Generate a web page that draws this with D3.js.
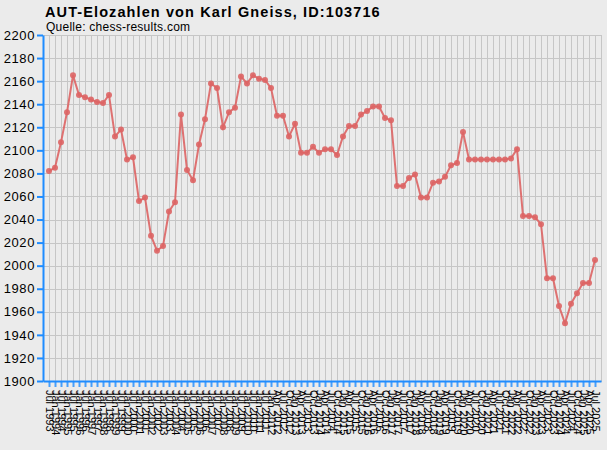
<!DOCTYPE html>
<html><head><meta charset="utf-8">
<script src="https://cdn.jsdelivr.net/npm/d3@7/dist/d3.min.js"></script>
<style>
html,body{margin:0;padding:0;background:#ebebeb;}
svg{display:block;font-family:"Liberation Sans",Arial,sans-serif;}
</style></head><body>
<svg id="c" width="607" height="450"></svg>
<script>
const titleText = "AUT-Elozahlen von Karl Gneiss, ID:103716";
const sourceText = "Quelle: chess-results.com";
const dates = [
"Jul 1993","Jan 1994","Jul 1994","Jan 1995","Jul 1995","Jan 1996","Jul 1996","Jan 1997","Jul 1997","Jan 1998",
"Jul 1998","Jan 1999","Jul 1999","Jan 2000","Jul 2000","Jan 2001","Jul 2001","Jan 2002","Jul 2002","Jan 2003",
"Jul 2003","Jan 2004","Jul 2004","Jan 2005","Jul 2005","Jan 2006","Jul 2006","Jan 2007","Jul 2007","Jan 2008",
"Jul 2008","Jan 2009","Jul 2009","Jan 2010","Jul 2010","Jan 2011","Jul 2011","Jan 2012",
"Apr 2012","Jul 2012","Oct 2012","Jan 2013","Apr 2013","Jul 2013","Oct 2013","Jan 2014","Apr 2014","Jul 2014",
"Oct 2014","Jan 2015","Apr 2015","Jul 2015","Oct 2015","Jan 2016","Apr 2016","Jul 2016","Oct 2016","Jan 2017",
"Apr 2017","Jul 2017","Oct 2017","Jan 2018","Apr 2018","Jul 2018","Oct 2018","Jan 2019","Apr 2019","Jul 2019",
"Oct 2019","Jan 2020","Apr 2020","Jul 2020","Oct 2020","Jan 2021","Apr 2021","Jul 2021","Oct 2021","Jan 2022",
"Apr 2022","Jul 2022","Oct 2022","Jan 2023","Apr 2023","Jul 2023","Oct 2023","Jan 2024","Apr 2024","Jul 2024",
"Oct 2024","Jan 2025","Apr 2025","Jul 2025"
];
const elo = [
2082,2085,2107,2133,2165,2148,2146,2144,2142,2141,
2148,2112,2118,2092,2094,2056,2059,2026,2013,2017,
2047,2055,2131,2083,2074,2105,2127,2158,2154,2120,
2133,2137,2164,2158,2165,2162,2161,2154,
2130,2130,2112,2123,2098,2098,2103,2098,2101,2101,
2096,2112,2121,2121,2131,2134,2138,2138,2128,2126,
2069,2069,2076,2079,2059,2059,2072,2073,2077,2087,
2089,2116,2092,2092,2092,2092,2092,2092,2092,2093,
2101,2043,2043,2042,2036,1989,1989,1965,1950,1967,
1976,1985,1985,2005
];
const yTicks = d3.range(1900, 2201, 20);

const svg = d3.select("#c");
const L = 43, R = 601, T = 35, B = 381;
const x = d3.scalePoint().domain(dates).range([L, R]).padding(1);
const y = d3.scaleLinear().domain([1900, 2200]).range([B, T]);

const gridColor = "#c6c6c6";
const axisColor = "#1e8cff";
const lineColor = "#dd6464";

// grid
const g = svg.append("g");
g.selectAll("line.h").data(yTicks).join("line")
  .attr("x1", L).attr("x2", R + 1)
  .attr("y1", d => Math.round(y(d)) + 0.5).attr("y2", d => Math.round(y(d)) + 0.5)
  .attr("stroke", gridColor).attr("stroke-width", 1);
g.selectAll("line.v").data(dates).join("line")
  .attr("x1", d => Math.round(x(d)) + 0.5).attr("x2", d => Math.round(x(d)) + 0.5)
  .attr("y1", T).attr("y2", B)
  .attr("stroke", gridColor).attr("stroke-width", 1);
g.append("line").attr("x1", R + 0.5).attr("x2", R + 0.5).attr("y1", T).attr("y2", B)
  .attr("stroke", gridColor);

// y axis
const ya = svg.append("g").attr("transform", `translate(${L},0)`)
  .call(d3.axisLeft(y).tickValues(yTicks).tickSize(6).tickSizeOuter(0).tickFormat(d3.format("d")));
ya.select(".domain").attr("stroke", axisColor).attr("stroke-width", 2);
ya.selectAll(".tick line").attr("stroke", axisColor).attr("stroke-width", 2);
ya.selectAll(".tick text").attr("font-size", 13).attr("fill", "#000")
  .attr("font-family", "Liberation Sans, Arial, sans-serif").attr("x", -8)
  .attr("letter-spacing", "0.6px");

// x axis
const xa = svg.append("g").attr("transform", `translate(0,${B})`)
  .call(d3.axisBottom(x).tickSize(6).tickSizeOuter(0));
xa.select(".domain").attr("stroke", axisColor).attr("stroke-width", 2);
xa.selectAll(".tick line").attr("stroke", axisColor).attr("stroke-width", 2).attr("stroke-opacity", 0.8);
xa.selectAll(".tick text")
  .attr("font-size", 11).attr("fill", "#000")
  .attr("font-family", "Liberation Sans, Arial, sans-serif")
  .attr("transform", "rotate(90)")
  .attr("text-anchor", "start")
  .attr("x", 9).attr("y", 0).attr("dy", "0.35em");

// line
const line = d3.line().x((d, i) => x(dates[i])).y(d => y(d));
svg.append("path").datum(elo).attr("d", line)
  .attr("fill", "none").attr("stroke", lineColor).attr("stroke-width", 2).attr("stroke-opacity", 0.9);
svg.append("g").selectAll("circle").data(elo).join("circle")
  .attr("cx", (d, i) => x(dates[i])).attr("cy", d => y(d)).attr("r", 3)
  .attr("fill", lineColor).attr("fill-opacity", 0.9);

// titles
svg.append("text").attr("x", 45).attr("y", 17).attr("font-size", 14.5).attr("font-weight", "bold")
  .attr("letter-spacing", "1.1px")
  .attr("fill", "#000").text(titleText);
svg.append("text").attr("x", 46).attr("y", 31).attr("font-size", 12)
  .attr("letter-spacing", "0.25px")
  .attr("fill", "#000").text(sourceText);
</script>
</body></html>
